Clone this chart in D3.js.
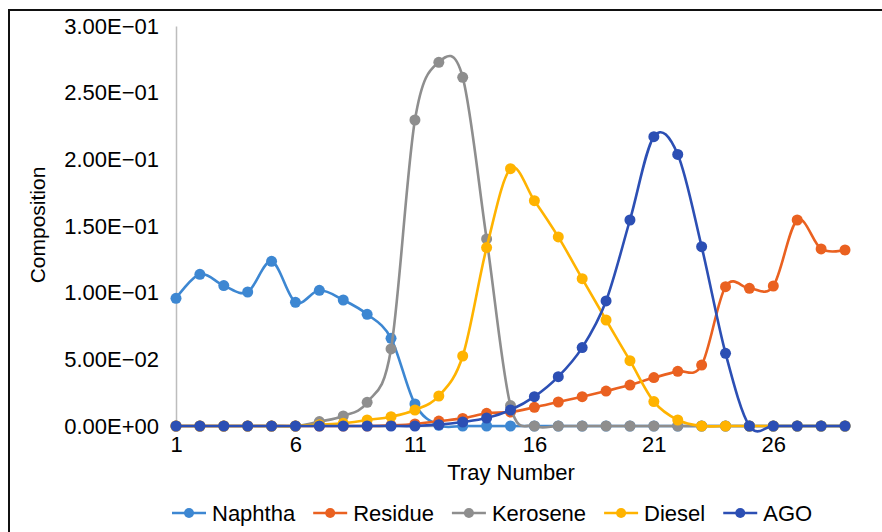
<!DOCTYPE html>
<html>
<head>
<meta charset="utf-8">
<script src="https://cdn.jsdelivr.net/npm/d3@7/dist/d3.min.js"></script>
<style>
  html, body { margin: 0; padding: 0; background: #fff; }
  svg { display: block; font-family: "Liberation Sans", Arial, sans-serif; }
</style>
</head>
<body>
<svg id="chart" width="882" height="532"></svg>
<script>
// Tray numbers along the column
const trays = d3.range(1, 30);

// Mole fraction of each cut on every tray
const naphtha  = [0.0958, 0.1138, 0.1053, 0.1005, 0.1235, 0.0928, 0.1018, 0.0945, 0.0838, 0.0658,
                  0.0165, 0.0005, 0, 0, 0, 0, 0, 0, 0, 0, 0, 0, 0, 0, 0, 0, 0, 0, 0];
const residue  = [0, 0, 0, 0, 0, 0, 0, 0, 0, 0.0005,
                  0.0015, 0.0037, 0.0057, 0.0095, 0.0105, 0.014, 0.018, 0.022, 0.0262, 0.0307,
                  0.0363, 0.041, 0.0457, 0.1045, 0.1033, 0.105, 0.1545, 0.1328, 0.132];
const kerosene = [0, 0, 0, 0, 0, 0, 0.0033, 0.0075, 0.0178, 0.0578,
                  0.2295, 0.2728, 0.2615, 0.1403, 0.0153, 0, 0, 0, 0, 0,
                  0, 0, 0, 0, 0, 0, 0, 0, 0];
const diesel   = [0, 0, 0, 0, 0, 0, 0.001, 0.002, 0.0045, 0.007,
                  0.012, 0.0225, 0.0525, 0.1338, 0.193, 0.169, 0.1418, 0.1105, 0.0795, 0.049,
                  0.0183, 0.0045, 0, 0, 0, 0, 0, 0, 0];
const ago      = [0, 0, 0, 0, 0, 0, 0, 0, 0, 0,
                  0, 0.001, 0.003, 0.006, 0.012, 0.022, 0.037, 0.0588, 0.0938, 0.1545,
                  0.217, 0.2037, 0.1345, 0.0545, 0, 0, 0, 0, 0];

const seriesNames = ["Naphtha", "Residue", "Kerosene", "Diesel", "AGO"];
const seriesValues = [naphtha, residue, kerosene, diesel, ago];
const seriesColors = ["#3D87D2", "#EA6120", "#8E8E8E", "#FFB300", "#2C4FB4"];

const xTickLabels = [1, 6, 11, 16, 21, 26];
const yTickValues = [0, 0.05, 0.10, 0.15, 0.20, 0.25, 0.30];

const svg = d3.select("#chart");

// Outer frame of the chart area
svg.append("rect")
  .attr("x", 9).attr("y", 10)
  .attr("width", 900).attr("height", 560)
  .attr("fill", "none").attr("stroke", "#111").attr("stroke-width", 2);

const x = d3.scaleLinear().domain([1, 29]).range([176, 845]);
const y = d3.scaleLinear().domain([0, 0.3]).range([426, 26]);

// Scientific labels in the 0.00E+00 style
function sci(v) {
  if (v === 0) return "0.00E+00";
  const e = Math.floor(Math.log10(Math.abs(v)) + 1e-9);
  const m = v / Math.pow(10, e);
  const sign = e < 0 ? "\u2212" : "+";
  return m.toFixed(2) + "E" + sign + String(Math.abs(e)).padStart(2, "0");
}

// Y axis
const yAxis = svg.append("g")
  .attr("transform", `translate(${x(1)},0)`)
  .call(d3.axisLeft(y).tickValues(yTickValues).tickFormat(sci).tickSize(0).tickPadding(17));
yAxis.select(".domain").attr("stroke", "#bdbdbd").attr("stroke-width", 1.5);
yAxis.selectAll("text").attr("font-size", 22).attr("fill", "#000")
  .attr("font-family", "'Liberation Sans', Arial, sans-serif");

// X axis
const xAxis = svg.append("g")
  .attr("transform", `translate(0,${y(0)})`)
  .call(d3.axisBottom(x).tickValues(xTickLabels).tickFormat(d3.format("d")).tickSize(0).tickPadding(10));
xAxis.select(".domain").attr("stroke", "#bdbdbd").attr("stroke-width", 1.5);
xAxis.selectAll("text").attr("font-size", 22).attr("fill", "#000")
  .attr("font-family", "'Liberation Sans', Arial, sans-serif");

// Axis titles
svg.append("text")
  .attr("x", 511).attr("y", 480)
  .attr("text-anchor", "middle")
  .attr("font-size", 22)
  .text("Tray Number");

svg.append("text")
  .attr("transform", "translate(45,225) rotate(-90)")
  .attr("text-anchor", "middle")
  .attr("font-size", 21)
  .text("Composition");

// Series: smoothed lines with round markers
const line = d3.line()
  .x((d, i) => x(trays[i]))
  .y(d => y(d))
  .curve(d3.curveCardinal.tension(0));

seriesValues.forEach((vals, k) => {
  const g = svg.append("g");
  g.append("path")
    .attr("d", line(vals))
    .attr("fill", "none")
    .attr("stroke", seriesColors[k])
    .attr("stroke-width", 2.6)
    .attr("stroke-linejoin", "round");
  g.selectAll("circle")
    .data(vals)
    .join("circle")
    .attr("cx", (d, i) => x(trays[i]))
    .attr("cy", d => y(d))
    .attr("r", 5.5)
    .attr("fill", seriesColors[k]);
});

// Legend
const legend = svg.append("g").attr("transform", "translate(172,513)");
let lx = 0;
seriesNames.forEach((name, k) => {
  const item = legend.append("g").attr("transform", `translate(${lx},0)`);
  item.append("line")
    .attr("x1", 0).attr("x2", 34).attr("y1", 0).attr("y2", 0)
    .attr("stroke", seriesColors[k]).attr("stroke-width", 2.6);
  item.append("circle").attr("cx", 17).attr("cy", 0).attr("r", 5).attr("fill", seriesColors[k]);
  const t = item.append("text")
    .attr("x", 40).attr("y", 0).attr("dy", "0.35em")
    .attr("font-size", 22)
    .text(name);
  lx += 40 + t.node().getComputedTextLength() + 18;
});
</script>
</body>
</html>
